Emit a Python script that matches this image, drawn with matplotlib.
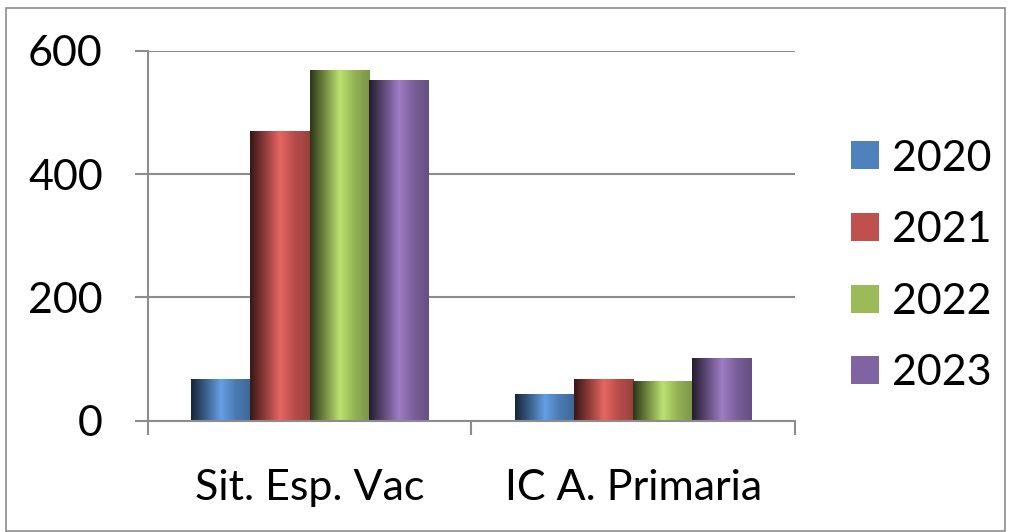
import numpy as np
import matplotlib
matplotlib.use("Agg")
import matplotlib.pyplot as plt
from matplotlib.colors import LinearSegmentedColormap, to_rgb
from matplotlib.patches import Rectangle

plt.rcParams['font.family'] = ['Lato', 'DejaVu Sans']

categories = ['Sit. Esp. Vac', 'IC A. Primaria']
years = ['2020', '2021', '2022', '2023']
values = {
    '2020': [68, 44],
    '2021': [470, 68],
    '2022': [569, 65],
    '2023': [552, 102],
}
colors = ['#4F81BD', '#C0504D', '#9BBB59', '#8064A2']


def shade_cmap(c):
    r = np.array(to_rgb(c))
    light = np.clip(r * 1.15 + 0.04, 0, 1)
    return LinearSegmentedColormap.from_list(
        'sh', [r * 0.3, r * 0.75, light, r * 0.95, r * 0.8])


fig = plt.figure(figsize=(10.12, 5.32), dpi=100)
ax = fig.add_axes([0.1462, 0.2092, 0.6393, 0.6955])

x = np.arange(len(categories))
w = 0.183
grad = np.linspace(0, 1, 64).reshape(1, -1)
for i, yr in enumerate(years):
    bars = ax.bar(x + (i - 1.5) * w, values[yr], w, color=colors[i],
                  label=yr, zorder=3, edgecolor='none')
    cm = shade_cmap(colors[i])
    for b in bars:
        x0, y0 = b.get_x(), b.get_y()
        im = ax.imshow(grad, cmap=cm, aspect='auto', zorder=4,
                       extent=[x0, x0 + b.get_width(), y0, y0 + b.get_height()])
        im.set_clip_path(b)

ax.set_xlim(-0.5, 1.5)
ax.set_ylim(0, 600)
ax.set_yticks([0, 200, 400, 600])
ax.set_xticks([-0.5, 0.5, 1.5], minor=False)
ax.set_xticklabels([])
ax.set_xticks(x, minor=True)
ax.set_xticklabels(categories, minor=True)
ax.tick_params(axis='x', which='minor', length=0, labelsize=31, pad=35)
ax.tick_params(axis='x', which='major', length=10, color='#8c8c8c', width=1.5)
ax.tick_params(axis='y', length=9.5, color='#8c8c8c', width=1.5, labelsize=31, pad=23)
ax.grid(axis='y', color='#8c8c8c', linewidth=1.5, zorder=0)
for s in ['top', 'right']:
    ax.spines[s].set_visible(False)
for s in ['left', 'bottom']:
    ax.spines[s].set_color('#8c8c8c')
    ax.spines[s].set_linewidth(1.5)
ax.spines['bottom'].set_zorder(5)

leg = fig.legend(loc='center left', bbox_to_anchor=(0.820, 0.5), frameon=False,
                 fontsize=31, handlelength=0.65, handleheight=0.623,
                 labelspacing=0.78, handletextpad=0.3, borderpad=0)

fig.patches.append(Rectangle((0.006, 0.002), 0.987, 0.983, transform=fig.transFigure,
                             fill=False, edgecolor='#8c8c8c', linewidth=1.2))

fig.savefig('out.png', dpi=100)
